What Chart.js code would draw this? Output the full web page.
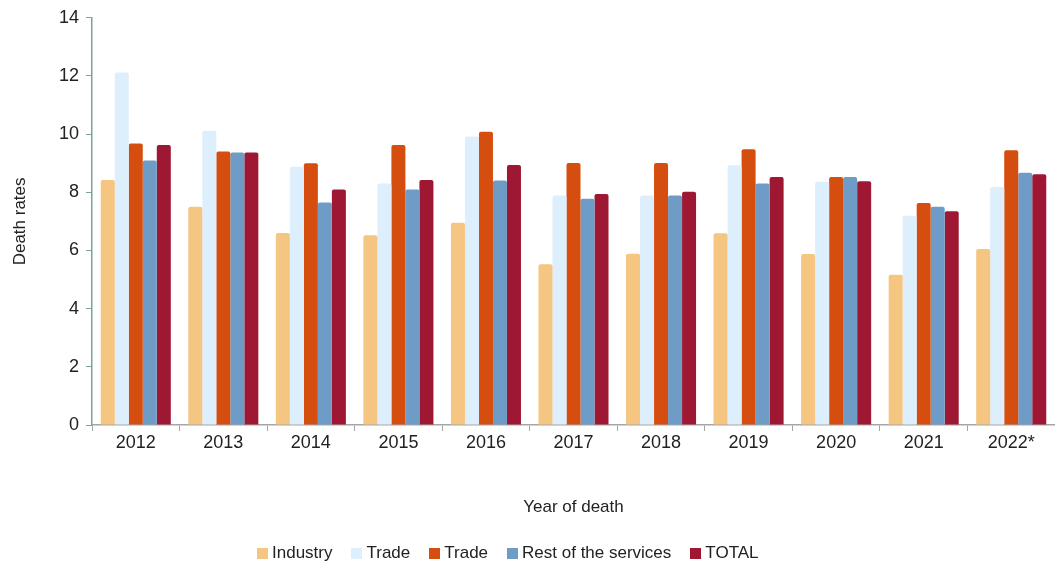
<!DOCTYPE html>
<html>
<head>
    <title>Death rates by year of death</title>
    <script src="https://cdn.jsdelivr.net/npm/chart.js"></script>
    <style>
        html, body {
            margin: 0;
            padding: 0;
            background: #fff;
        }
        #wrap {
            position: relative;
            width: 1055px;
            height: 570px;
        }
        #legend {
            position: absolute;
            left: 257px;
            top: 543px;
            display: flex;
            align-items: center;
            font-family: 'Liberation Sans', Arial, sans-serif;
            font-size: 17px;
            color: #222;
            line-height: 20px;
        }
        .legend-item {
            display: flex;
            align-items: center;
            margin-right: 19px;
        }
        .legend-box {
            width: 11px;
            height: 11px;
            margin-right: 4px;
        }
    </style>
</head>
<body>
    <div id="wrap">
        <canvas id="chart" width="1055" height="570"></canvas>
        <div id="legend"></div>
    </div>

    <script>
        // data
        const years = ['2012', '2013', '2014', '2015', '2016', '2017', '2018', '2019', '2020', '2021', '2022*'];
        const industry = [8.42, 7.50, 6.60, 6.52, 6.95, 5.53, 5.89, 6.59, 5.88, 5.17, 6.05];
        const tradeLight = [12.12, 10.12, 8.88, 8.30, 9.92, 7.89, 7.89, 8.93, 8.36, 7.19, 8.18];
        const tradeDark = [9.68, 9.40, 9.00, 9.63, 10.08, 9.01, 9.01, 9.48, 8.53, 7.63, 9.45];
        const restServices = [9.09, 9.37, 7.65, 8.10, 8.41, 7.78, 7.89, 8.30, 8.53, 7.50, 8.67];
        const total = [9.63, 9.37, 8.10, 8.42, 8.94, 7.94, 8.02, 8.53, 8.38, 7.35, 8.62];
        const yTicks = [0, 2, 4, 6, 8, 10, 12, 14];

        const FONT = 'Liberation Sans, Arial, sans-serif';
        Chart.defaults.font.family = FONT;
        Chart.defaults.color = '#222';

        function bars(label, values, color) {
            return {
                label: label,
                data: values,
                backgroundColor: color,
                borderWidth: 0,
                borderRadius: 2,
                borderSkipped: 'bottom',
                categoryPercentage: 0.8,
                barPercentage: 1.0
            };
        }

        const ctx = document.getElementById('chart').getContext('2d');
        const chart = new Chart(ctx, {
            type: 'bar',
            data: {
                labels: years,
                datasets: [
                    bars('Industry', industry, '#F5C582'),
                    bars('Trade', tradeLight, '#DDEEFD'),
                    bars('Trade', tradeDark, '#D64E0F'),
                    bars('Rest of the services', restServices, '#6E9CC6'),
                    bars('TOTAL', total, '#9E1834')
                ]
            },
            options: {
                responsive: false,
                animation: false,
                layout: {
                    padding: { top: 12, right: 0, bottom: 52, left: 10 }
                },
                scales: {
                    x: {
                        grid: {
                            display: true,
                            drawOnChartArea: false,
                            drawTicks: true,
                            tickLength: 6,
                            color: '#A6A6A6',
                            offset: true
                        },
                        border: { color: '#A6A6A6', width: 1.5 },
                        ticks: {
                            font: { size: 18 },
                            color: '#222',
                            padding: 1,
                            maxRotation: 0
                        },
                        title: {
                            display: true,
                            text: 'Year of death',
                            font: { size: 17 },
                            color: '#222',
                            padding: { top: 43, bottom: 0 }
                        }
                    },
                    y: {
                        min: 0,
                        max: 14,
                        afterBuildTicks: (scale) => {
                            scale.ticks = yTicks.map(v => ({ value: v }));
                        },
                        afterFit: (scale) => {
                            scale.width = 82;
                        },
                        grid: {
                            display: true,
                            drawOnChartArea: false,
                            drawTicks: true,
                            tickLength: 6,
                            color: '#7AA39A'
                        },
                        border: { color: '#7AA39A', width: 1.5 },
                        ticks: {
                            font: { size: 18 },
                            color: '#222',
                            padding: 7
                        },
                        title: {
                            display: true,
                            text: 'Death rates',
                            font: { size: 17 },
                            color: '#222',
                            padding: { top: 0, bottom: 4 }
                        }
                    }
                },
                plugins: {
                    legend: { display: false },
                    tooltip: { enabled: false }
                }
            }
        });

        // legend drawn as html so the box-to-text gap matches
        const legend = document.getElementById('legend');
        chart.data.datasets.forEach((ds) => {
            const item = document.createElement('div');
            item.className = 'legend-item';
            const box = document.createElement('span');
            box.className = 'legend-box';
            box.style.background = ds.backgroundColor;
            const text = document.createElement('span');
            text.textContent = ds.label;
            item.appendChild(box);
            item.appendChild(text);
            legend.appendChild(item);
        });
    </script>
</body>
</html>
